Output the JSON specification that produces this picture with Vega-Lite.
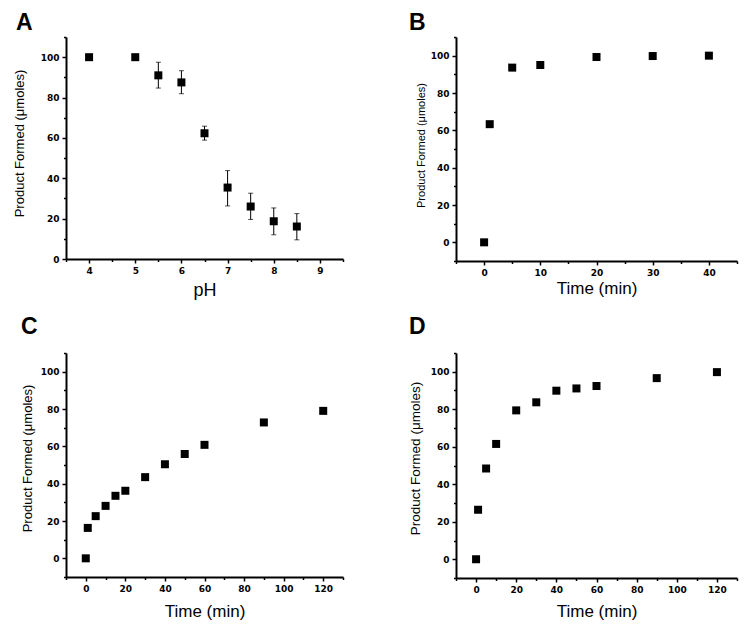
{
  "$schema": "https://vega.github.io/schema/vega-lite/v6.json",
  "background": "white",
  "padding": {"left": 12, "top": 12, "right": 5, "bottom": 2},
  "bounds": "flush",
  "columns": 2,
  "spacing": {"row": 92, "column": 113},
  "concat": [
    {
      "width": 277,
      "height": 222,
      "title": {"text": "A", "anchor": "start", "frame": "group", "dx": -50, "offset": -20, "baseline": "alphabetic"},
      "data": {"values": [
        {"ph": 4, "v": 100},
        {"ph": 5, "v": 100},
        {"ph": 5.5, "v": 91, "lo": 84.7, "hi": 97.5},
        {"ph": 6, "v": 87.5, "lo": 81.9, "hi": 93.3},
        {"ph": 6.5, "v": 62.3, "lo": 58.9, "hi": 65.8},
        {"ph": 7, "v": 35.4, "lo": 26.3, "hi": 43.8},
        {"ph": 7.5, "v": 26, "lo": 19.6, "hi": 32.6},
        {"ph": 8, "v": 18.7, "lo": 12, "hi": 25.3},
        {"ph": 8.5, "v": 16.1, "lo": 9.5, "hi": 22.5}
      ]},
      "encoding": {
        "x": {"field": "ph", "type": "quantitative", "scale": {"domain": [3.5, 9.5], "nice": false, "zero": false},
          "axis": {"title": "pH", "titleFontSize": 18, "titleBaseline": "alphabetic", "titleY": 36,
            "values": [3.5, 4, 4.5, 5, 5.5, 6, 6.5, 7, 7.5, 8, 8.5, 9, 9.5],
            "labelExpr": "datum.value % 1 === 0 ? format(datum.value, 'd') : ''",
            "tickSize": {"condition": {"test": "datum.value % 1 === 0", "value": 4}, "value": 2.5}}}
      },
      "layer": [
        {
          "transform": [{"filter": "isValid(datum.lo)"}],
          "mark": {"type": "errorbar", "color": "black", "thickness": 1, "ticks": {"size": 5, "thickness": 1, "color": "black"}},
          "encoding": {
            "y": {"field": "lo", "type": "quantitative", "scale": {"domain": [0, 110], "nice": false},
              "axis": {"title": "Product Formed (μmoles)", "titleFontSize": 13, "titleBaseline": "alphabetic", "titleX": -43, "titleY": 106,
                "values": [0, 10, 20, 30, 40, 50, 60, 70, 80, 90, 100, 110],
                "labelExpr": "datum.value % 20 === 0 && datum.value <= 100 ? datum.label : ''",
                "tickSize": {"condition": {"test": "datum.value % 20 === 0", "value": 4}, "value": 2.5}}},
            "y2": {"field": "hi"}
          }
        },
        {
          "mark": {"type": "square", "size": 64, "color": "black", "opacity": 1},
          "encoding": {
            "y": {"field": "v", "type": "quantitative", "scale": {"domain": [0, 110], "nice": false},
              "axis": {"title": "Product Formed (μmoles)", "titleFontSize": 13, "titleBaseline": "alphabetic", "titleX": -43, "titleY": 106,
                "values": [0, 10, 20, 30, 40, 50, 60, 70, 80, 90, 100, 110],
                "labelExpr": "datum.value % 20 === 0 && datum.value <= 100 ? datum.label : ''",
                "tickSize": {"condition": {"test": "datum.value % 20 === 0", "value": 4}, "value": 2.5}}}
          }
        }
      ]
    },
    {
      "width": 281,
      "height": 224,
      "title": {"text": "B", "anchor": "start", "frame": "group", "dx": -47, "offset": -20, "baseline": "alphabetic"},
      "data": {"values": [
        {"t": 0, "v": 0},
        {"t": 1, "v": 63.3},
        {"t": 5, "v": 93.6},
        {"t": 10, "v": 95},
        {"t": 20, "v": 99.3},
        {"t": 30, "v": 99.8},
        {"t": 40, "v": 100}
      ]},
      "mark": {"type": "square", "size": 64, "color": "black", "opacity": 1},
      "encoding": {
        "x": {"field": "t", "type": "quantitative", "scale": {"domain": [-5, 45], "nice": false, "zero": false},
          "axis": {"title": "Time (min)", "titleFontSize": 17, "titleBaseline": "alphabetic", "titleY": 32,
            "values": [-5, 0, 5, 10, 15, 20, 25, 30, 35, 40, 45],
            "labelExpr": "datum.value % 10 === 0 ? datum.label : ''",
            "tickSize": {"condition": {"test": "datum.value % 10 === 0", "value": 4}, "value": 2.5}}},
        "y": {"field": "v", "type": "quantitative", "scale": {"domain": [-10, 110], "nice": false},
          "axis": {"title": "Product Formed (μmoles)", "titleFontSize": 11, "titleBaseline": "alphabetic", "titleX": -32, "titleY": 108,
            "values": [-10, 0, 10, 20, 30, 40, 50, 60, 70, 80, 90, 100, 110],
            "labelExpr": "datum.value % 20 === 0 && datum.value <= 100 ? datum.label : ''",
            "tickSize": {"condition": {"test": "datum.value % 20 === 0", "value": 4}, "value": 2.5}}}
      }
    },
    {
      "width": 277,
      "height": 224,
      "title": {"text": "C", "anchor": "start", "frame": "group", "dx": -45, "offset": -8, "baseline": "alphabetic"},
      "data": {"values": [
        {"t": 0, "v": 0},
        {"t": 1, "v": 16.3},
        {"t": 5, "v": 22.6},
        {"t": 10, "v": 28.1},
        {"t": 15, "v": 33.5},
        {"t": 20, "v": 36.2},
        {"t": 30, "v": 43.5},
        {"t": 40, "v": 50.4},
        {"t": 50, "v": 55.9},
        {"t": 60, "v": 60.8},
        {"t": 90, "v": 72.8},
        {"t": 120, "v": 79}
      ]},
      "mark": {"type": "square", "size": 64, "color": "black", "opacity": 1},
      "encoding": {
        "x": {"field": "t", "type": "quantitative", "scale": {"domain": [-10, 130], "nice": false, "zero": false},
          "axis": {"title": "Time (min)", "titleFontSize": 17, "titleBaseline": "alphabetic", "titleY": 39,
            "values": [-10, 0, 10, 20, 30, 40, 50, 60, 70, 80, 90, 100, 110, 120, 130],
            "labelExpr": "datum.value % 20 === 0 ? datum.label : ''",
            "tickSize": {"condition": {"test": "datum.value % 20 === 0", "value": 4}, "value": 2.5}}},
        "y": {"field": "v", "type": "quantitative", "scale": {"domain": [-10, 110], "nice": false},
          "axis": {"title": "Product Formed (μmoles)", "titleFontSize": 13, "titleBaseline": "alphabetic", "titleX": -35, "titleY": 105,
            "values": [-10, 0, 10, 20, 30, 40, 50, 60, 70, 80, 90, 100, 110],
            "labelExpr": "datum.value % 20 === 0 && datum.value <= 100 ? datum.label : ''",
            "tickSize": {"condition": {"test": "datum.value % 20 === 0", "value": 4}, "value": 2.5}}}
      }
    },
    {
      "width": 281,
      "height": 225,
      "title": {"text": "D", "anchor": "start", "frame": "group", "dx": -47, "offset": -8, "baseline": "alphabetic"},
      "data": {"values": [
        {"t": 0, "v": 0},
        {"t": 1, "v": 26.4},
        {"t": 5, "v": 48.4},
        {"t": 10, "v": 61.5},
        {"t": 20, "v": 79.4},
        {"t": 30, "v": 83.7},
        {"t": 40, "v": 89.9},
        {"t": 50, "v": 91.1},
        {"t": 60, "v": 92.4},
        {"t": 90, "v": 96.6},
        {"t": 120, "v": 99.8}
      ]},
      "mark": {"type": "square", "size": 64, "color": "black", "opacity": 1},
      "encoding": {
        "x": {"field": "t", "type": "quantitative", "scale": {"domain": [-10, 130], "nice": false, "zero": false},
          "axis": {"title": "Time (min)", "titleFontSize": 17, "titleBaseline": "alphabetic", "titleY": 38,
            "values": [-10, 0, 10, 20, 30, 40, 50, 60, 70, 80, 90, 100, 110, 120, 130],
            "labelExpr": "datum.value % 20 === 0 ? datum.label : ''",
            "tickSize": {"condition": {"test": "datum.value % 20 === 0", "value": 4}, "value": 2.5}}},
        "y": {"field": "v", "type": "quantitative", "scale": {"domain": [-10, 110], "nice": false},
          "axis": {"title": "Product Formed (μmoles)", "titleFontSize": 13.5, "titleBaseline": "alphabetic", "titleX": -36.5, "titleY": 105,
            "values": [-10, 0, 10, 20, 30, 40, 50, 60, 70, 80, 90, 100, 110],
            "labelExpr": "datum.value % 20 === 0 && datum.value <= 100 ? datum.label : ''",
            "tickSize": {"condition": {"test": "datum.value % 20 === 0", "value": 4}, "value": 2.5}}}
      }
    }
  ],
  "config": {
    "view": {"stroke": null},
    "title": {"font": "Liberation Sans", "fontSize": 23, "fontWeight": "bold", "color": "black"},
    "axis": {
      "grid": false,
      "domainColor": "black",
      "domainWidth": 2,
      "tickColor": "black",
      "tickWidth": 1.5,
      "labelFont": "DejaVu Sans",
      "labelFontWeight": "bold",
      "labelFontSize": 9,
      "labelColor": "black",
      "labelPadding": 3,
      "labelOverlap": false,
      "labelFlush": false,
      "titleFont": "Liberation Sans",
      "titleFontWeight": "normal",
      "titleColor": "black"
    }
  }
}
